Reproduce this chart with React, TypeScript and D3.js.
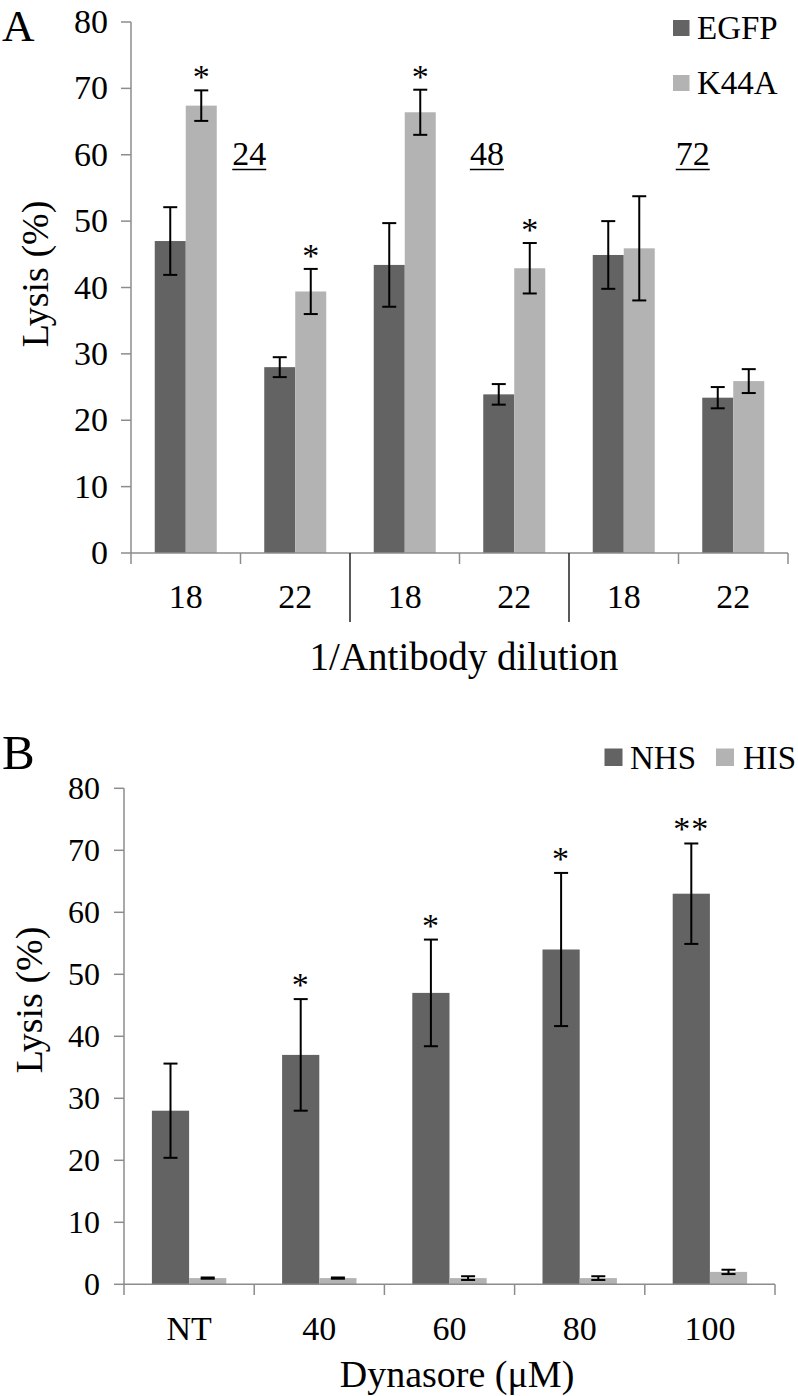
import React from "react";
import * as d3 from "d3";

// ---------- Panel A data ----------
const catsA = ["18", "22", "18", "22", "18", "22"];
const seriesA = ["EGFP", "K44A"];
const egfpVals = [47, 28, 43.4, 23.9, 44.9, 23.4];
const egfpErr = [5.1, 1.5, 6.3, 1.55, 5.1, 1.6];
const k44aVals = [67.4, 39.4, 66.4, 42.9, 45.9, 25.9];
const k44aErr = [2.3, 3.4, 3.4, 3.8, 7.85, 1.8];
const k44aSig = ["*", "*", "*", "*", "", ""];
const timeLabels = ["24", "48", "72"];
const timePos = [1.08, 3.25, 5.13]; // in category units
const yTicksA = [0, 10, 20, 30, 40, 50, 60, 70, 80];

// ---------- Panel B data ----------
const catsB = ["NT", "40", "60", "80", "100"];
const seriesB = ["NHS", "HIS"];
const nhsVals = [28, 37, 47, 54, 63];
const nhsErr = [7.6, 9, 8.6, 12.35, 8.1];
const nhsSig = ["", "*", "*", "*", "**"];
const hisVals = [1, 1, 1, 1, 2];
const hisErr = [0.1, 0.1, 0.3, 0.3, 0.35];
const yTicksB = [0, 10, 20, 30, 40, 50, 60, 70, 80];

const DARK = "#636363";
const LIGHT = "#b3b3b3";
const AXIS = "#8c8c8c";
const FONT = "Liberation Serif, DejaVu Serif, serif";

export default function App() {
  // ----- Panel A scales -----
  const xA = d3.scaleBand<number>().domain(d3.range(catsA.length)).range([131, 788]).paddingInner(0).paddingOuter(0);
  const xAin = d3.scaleBand<string>().domain(seriesA).range([0, xA.step()]).paddingInner(0).paddingOuter(0.766);
  const yA = d3.scaleLinear().domain([0, 80]).range([553, 22]);
  const xAcat = d3.scaleLinear().domain([0, catsA.length]).range([131, 788]);

  // ----- Panel B scales -----
  const xB = d3.scaleBand<number>().domain(d3.range(catsB.length)).range([124, 775]).paddingInner(0).paddingOuter(0);
  const xBin = d3.scaleBand<string>().domain(seriesB).range([0, xB.step()]).paddingInner(0).paddingOuter(0.75);
  const yB = d3.scaleLinear().domain([0, 80]).range([1284.3, 788.3]);

  const errBar = (cx: number, y: d3.ScaleLinear<number, number>, v: number, e: number, key: string, cap = 7) => {
    const t = y(v + e);
    const b = y(v - e);
    return (
      <g key={key} stroke="#000" strokeWidth={2}>
        <line x1={cx} x2={cx} y1={t} y2={b} />
        <line x1={cx - cap} x2={cx + cap} y1={t} y2={t} />
        <line x1={cx - cap} x2={cx + cap} y1={b} y2={b} />
      </g>
    );
  };

  const boundsA = d3.range(catsA.length + 1);
  const boundsB = d3.range(catsB.length + 1);

  return (
    <svg width={798} height={1396} style={{ position: "absolute", left: 0, top: 0, background: "#fff", fontFamily: FONT }}>
      <rect x={0} y={0} width={798} height={1396} fill="#fff" />
      {/* ================= Panel A ================= */}
      <text x={2} y={41} fontSize={45}>A</text>
      {/* y axis */}
      <line x1={131} x2={131} y1={yA(80)} y2={yA(0)} stroke={AXIS} strokeWidth={1.5} />
      {yTicksA.map((t) => (
        <g key={"ya" + t}>
          <line x1={121} x2={131} y1={yA(t)} y2={yA(t)} stroke={AXIS} strokeWidth={1.5} />
          <text x={108} y={yA(t) + 11} fontSize={34} textAnchor="end">{t}</text>
        </g>
      ))}
      <text transform={`translate(48,274) rotate(-90)`} fontSize={38} textAnchor="middle">Lysis (%)</text>
      {/* bars */}
      {catsA.map((c, i) => {
        const x0 = xA(i)!;
        const xe = x0 + xAin("EGFP")!;
        const xk = x0 + xAin("K44A")!;
        const w = xAin.bandwidth();
        return (
          <g key={"ba" + i}>
            <rect x={xe} y={yA(egfpVals[i])} width={w} height={yA(0) - yA(egfpVals[i])} fill={DARK} />
            <rect x={xk} y={yA(k44aVals[i])} width={w} height={yA(0) - yA(k44aVals[i])} fill={LIGHT} />
            {errBar(xe + w / 2, yA, egfpVals[i], egfpErr[i], "ee" + i)}
            {errBar(xk + w / 2, yA, k44aVals[i], k44aErr[i], "ek" + i)}
            {k44aSig[i] && (
              <text x={xk + w / 2} y={yA(k44aVals[i] + k44aErr[i]) - 2} fontSize={34} textAnchor="middle">{k44aSig[i]}</text>
            )}
          </g>
        );
      })}
      {/* x axis */}
      <line x1={131} x2={788} y1={yA(0)} y2={yA(0)} stroke={AXIS} strokeWidth={1.5} />
      {boundsA.map((b) =>
        b === 2 || b === 4 ? (
          <line key={"xa" + b} x1={xAcat(b)} x2={xAcat(b)} y1={yA(0)} y2={622} stroke="#222" strokeWidth={1.5} />
        ) : (
          <line key={"xa" + b} x1={xAcat(b)} x2={xAcat(b)} y1={yA(0)} y2={564} stroke={AXIS} strokeWidth={1.5} />
        )
      )}
      {catsA.map((c, i) => (
        <text key={"xla" + i} x={xA(i)! + xA.bandwidth() / 2} y={608} fontSize={34} textAnchor="middle">{c}</text>
      ))}
      <text x={464} y={670} fontSize={39} textAnchor="middle">1/Antibody dilution</text>
      {/* time labels */}
      {timeLabels.map((t, i) => (
        <g key={"tl" + i}>
          <text x={xAcat(timePos[i])} y={165} fontSize={34} textAnchor="middle">{t}</text>
          <line x1={xAcat(timePos[i]) - 17} x2={xAcat(timePos[i]) + 17} y1={169.5} y2={169.5} stroke="#000" strokeWidth={1.5} />
        </g>
      ))}
      {/* legend A */}
      {seriesA.map((s, i) => (
        <g key={"lga" + s}>
          <rect x={673} y={20 + i * 55} width={16.5} height={16} fill={i === 0 ? DARK : LIGHT} />
          <text x={697} y={39 + i * 55} fontSize={33}>{s}</text>
        </g>
      ))}

      {/* ================= Panel B ================= */}
      <text x={2} y={769} fontSize={49}>B</text>
      <line x1={124} x2={124} y1={yB(80)} y2={yB(0)} stroke={AXIS} strokeWidth={1.5} />
      {yTicksB.map((t) => (
        <g key={"yb" + t}>
          <line x1={114} x2={124} y1={yB(t)} y2={yB(t)} stroke={AXIS} strokeWidth={1.5} />
          <text x={100} y={yB(t) + 11} fontSize={32} textAnchor="end">{t}</text>
        </g>
      ))}
      <text transform={`translate(42,1000) rotate(-90)`} fontSize={38} textAnchor="middle">Lysis (%)</text>
      {catsB.map((c, i) => {
        const x0 = xB(i)!;
        const xn = x0 + xBin("NHS")!;
        const xh = x0 + xBin("HIS")!;
        const w = xBin.bandwidth();
        return (
          <g key={"bb" + i}>
            <rect x={xn} y={yB(nhsVals[i])} width={w} height={yB(0) - yB(nhsVals[i])} fill={DARK} />
            <rect x={xh} y={yB(hisVals[i])} width={w} height={yB(0) - yB(hisVals[i])} fill={LIGHT} />
            {errBar(xn + w / 2, yB, nhsVals[i], nhsErr[i], "en" + i)}
            {errBar(xh + w / 2, yB, hisVals[i], hisErr[i], "eh" + i)}
            {nhsSig[i] && (
              <text x={xn + w / 2} y={yB(nhsVals[i] + nhsErr[i]) - 3} fontSize={34} textAnchor="middle" letterSpacing={1}>{nhsSig[i]}</text>
            )}
          </g>
        );
      })}
      <line x1={124} x2={775} y1={yB(0)} y2={yB(0)} stroke={AXIS} strokeWidth={1.5} />
      {boundsB.map((b) => {
        const xx = 124 + b * xB.step();
        return <line key={"xb" + b} x1={xx} x2={xx} y1={yB(0)} y2={1295} stroke={AXIS} strokeWidth={1.5} />;
      })}
      {catsB.map((c, i) => (
        <text key={"xlb" + i} x={xB(i)! + xB.bandwidth() / 2} y={1340} fontSize={34} textAnchor="middle">{c}</text>
      ))}
      <text x={457} y={1387} fontSize={38} textAnchor="middle">Dynasore (μM)</text>
      {seriesB.map((s, i) => (
        <g key={"lgb" + s}>
          <rect x={604.5 + i * 111.5} y={748.5} width={18} height={17.5} fill={i === 0 ? DARK : LIGHT} />
          <text x={630 + i * 113} y={769} fontSize={33}>{s}</text>
        </g>
      ))}
    </svg>
  );
}
